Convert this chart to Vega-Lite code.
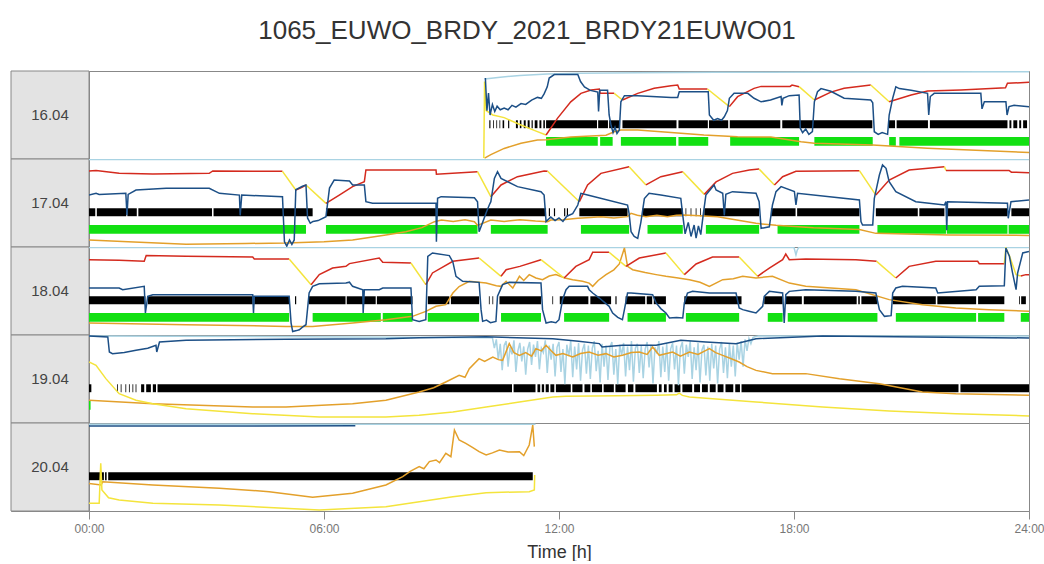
{
"$schema":"https://vega.github.io/schema/vega-lite/v6.json",
"background":"white",
"padding":{"left":10,"top":18,"right":10,"bottom":0},
"title":{"text":"1065_EUWO_BRDY_2021_BRDY21EUWO01","fontSize":26,"font":"Liberation Sans","fontWeight":"normal","color":"#333333","anchor":"middle","offset":26},
"config":{"view":{"stroke":"#888888","strokeWidth":1},"concat":{"spacing":0},"font":"Liberation Sans"},
"data":{"values":[
{"d":"16.04","c":"lb","g":1,"h":10.1,"v":91},{"d":"16.04","c":"lb","g":1,"h":10.5,"v":93},{"d":"16.04","c":"lb","g":1,"h":11,"v":95},{"d":"16.04","c":"lb","g":1,"h":11.7,"v":96.5},{"d":"16.04","c":"lb","g":1,"h":12.5,"v":97.5},{"d":"16.04","c":"lb","g":1,"h":14,"v":98},{"d":"16.04","c":"lb","g":1,"h":16,"v":98.5},{"d":"16.04","c":"lb","g":1,"h":20,"v":99},{"d":"16.04","c":"lb","g":1,"h":24,"v":99.2},
{"d":"16.04","c":"or","g":1,"h":10.1,"v":1},{"d":"16.04","c":"or","g":1,"h":10.26,"v":5},{"d":"16.04","c":"or","g":1,"h":10.6,"v":12},{"d":"16.04","c":"or","g":1,"h":11.03,"v":18},{"d":"16.04","c":"or","g":1,"h":11.45,"v":21.6},{"d":"16.04","c":"or","g":1,"h":11.67,"v":22},{"d":"16.04","c":"or","g":1,"h":12.3,"v":25},{"d":"16.04","c":"or","g":1,"h":13.2,"v":27},{"d":"16.04","c":"or","g":1,"h":13.41,"v":31},{"d":"16.04","c":"or","g":1,"h":13.58,"v":33},{"d":"16.04","c":"or","g":1,"h":14.01,"v":33},{"d":"16.04","c":"or","g":1,"h":14.86,"v":30},{"d":"16.04","c":"or","g":1,"h":15.7,"v":27.3},{"d":"16.04","c":"or","g":1,"h":16.56,"v":25.4},{"d":"16.04","c":"or","g":1,"h":17.41,"v":25},{"d":"16.04","c":"or","g":1,"h":18.18,"v":19.7},{"d":"16.04","c":"or","g":1,"h":18.52,"v":18},{"d":"16.04","c":"or","g":1,"h":20.01,"v":15.9},{"d":"16.04","c":"or","g":1,"h":21.41,"v":12.1},{"d":"16.04","c":"or","g":1,"h":24,"v":7.5},
{"d":"16.04","c":"yl","g":"y1","h":10.08,"v":1},{"d":"16.04","c":"yl","g":"y1","h":10.1,"v":88},{"d":"16.04","c":"yl","g":"y1","h":10.14,"v":55},{"d":"16.04","c":"yl","g":"y1","h":10.31,"v":50},{"d":"16.04","c":"yl","g":"y1","h":10.6,"v":47},{"d":"16.04","c":"yl","g":"y1","h":11.03,"v":38.6},{"d":"16.04","c":"yl","g":"y1","h":11.4,"v":32},{"d":"16.04","c":"yl","g":"y1","h":11.67,"v":27.3},
{"d":"16.04","c":"rd","g":"r1","h":11.67,"v":27.3},{"d":"16.04","c":"rd","g":"r1","h":11.96,"v":46.2},{"d":"16.04","c":"rd","g":"r1","h":12.3,"v":65},{"d":"16.04","c":"rd","g":"r1","h":12.56,"v":74.6},{"d":"16.04","c":"rd","g":"r1","h":12.82,"v":78.4},{"d":"16.04","c":"rd","g":"r1","h":13.03,"v":79.5},{"d":"16.04","c":"rd","g":"r1","h":13.05,"v":74.6},{"d":"16.04","c":"rd","g":"r1","h":13.41,"v":74.6},
{"d":"16.04","c":"yl","g":"y2","h":13.41,"v":74.6},{"d":"16.04","c":"yl","g":"y2","h":13.62,"v":67},
{"d":"16.04","c":"rd","g":"r2","h":13.62,"v":67},{"d":"16.04","c":"rd","g":"r2","h":14.01,"v":74.6},{"d":"16.04","c":"rd","g":"r2","h":14.43,"v":80.3},{"d":"16.04","c":"rd","g":"r2","h":14.86,"v":83.3},{"d":"16.04","c":"rd","g":"r2","h":15.03,"v":84.1},{"d":"16.04","c":"rd","g":"r2","h":15.07,"v":79.5},{"d":"16.04","c":"rd","g":"r2","h":15.79,"v":79.5},
{"d":"16.04","c":"yl","g":"y3","h":15.79,"v":79.5},{"d":"16.04","c":"yl","g":"y3","h":16.35,"v":59.5},
{"d":"16.04","c":"rd","g":"r3","h":16.35,"v":59.5},{"d":"16.04","c":"rd","g":"r3","h":16.56,"v":70.8},{"d":"16.04","c":"rd","g":"r3","h":16.98,"v":80.3},{"d":"16.04","c":"rd","g":"r3","h":17.16,"v":82.5},{"d":"16.04","c":"rd","g":"r3","h":17.9,"v":82.5},{"d":"16.04","c":"rd","g":"r3","h":17.95,"v":84},{"d":"16.04","c":"rd","g":"r3","h":18.13,"v":82.2},
{"d":"16.04","c":"yl","g":"y4","h":18.13,"v":82.2},{"d":"16.04","c":"yl","g":"y4","h":18.52,"v":67},
{"d":"16.04","c":"rd","g":"r4","h":18.52,"v":67},{"d":"16.04","c":"rd","g":"r4","h":18.94,"v":76},{"d":"16.04","c":"rd","g":"r4","h":19.28,"v":80.3},{"d":"16.04","c":"rd","g":"r4","h":19.96,"v":84.1},
{"d":"16.04","c":"yl","g":"y5","h":19.96,"v":84.1},{"d":"16.04","c":"yl","g":"y5","h":20.43,"v":65.1},
{"d":"16.04","c":"rd","g":"r5","h":20.43,"v":65.1},{"d":"16.04","c":"rd","g":"r5","h":20.99,"v":72.7},{"d":"16.04","c":"rd","g":"r5","h":21.41,"v":77.3},{"d":"16.04","c":"rd","g":"r5","h":22.26,"v":78.4},{"d":"16.04","c":"rd","g":"r5","h":22.77,"v":79.5},{"d":"16.04","c":"rd","g":"r5","h":23.4,"v":81},{"d":"16.04","c":"rd","g":"r5","h":23.45,"v":86},{"d":"16.04","c":"rd","g":"r5","h":24,"v":87.1},
{"d":"16.04","c":"db","g":1,"h":10.12,"v":92},{"d":"16.04","c":"db","g":1,"h":10.16,"v":55},{"d":"16.04","c":"db","g":1,"h":10.2,"v":75},{"d":"16.04","c":"db","g":1,"h":10.24,"v":50},{"d":"16.04","c":"db","g":1,"h":10.3,"v":62},{"d":"16.04","c":"db","g":1,"h":10.36,"v":54},{"d":"16.04","c":"db","g":1,"h":10.42,"v":60},{"d":"16.04","c":"db","g":1,"h":10.5,"v":56},{"d":"16.04","c":"db","g":1,"h":10.6,"v":58},{"d":"16.04","c":"db","g":1,"h":10.7,"v":56},{"d":"16.04","c":"db","g":1,"h":10.8,"v":61},{"d":"16.04","c":"db","g":1,"h":10.9,"v":59},{"d":"16.04","c":"db","g":1,"h":11.03,"v":63},{"d":"16.04","c":"db","g":1,"h":11.15,"v":62},{"d":"16.04","c":"db","g":1,"h":11.3,"v":67},{"d":"16.04","c":"db","g":1,"h":11.45,"v":70},{"d":"16.04","c":"db","g":1,"h":11.55,"v":69},{"d":"16.04","c":"db","g":1,"h":11.62,"v":74},{"d":"16.04","c":"db","g":1,"h":11.7,"v":82},{"d":"16.04","c":"db","g":1,"h":11.75,"v":92},{"d":"16.04","c":"db","g":1,"h":11.88,"v":96},{"d":"16.04","c":"db","g":1,"h":12.48,"v":96},{"d":"16.04","c":"db","g":1,"h":12.55,"v":88},{"d":"16.04","c":"db","g":1,"h":12.65,"v":82},{"d":"16.04","c":"db","g":1,"h":12.8,"v":78},{"d":"16.04","c":"db","g":1,"h":12.99,"v":76},{"d":"16.04","c":"db","g":1,"h":13.01,"v":54},{"d":"16.04","c":"db","g":1,"h":13.04,"v":78},{"d":"16.04","c":"db","g":1,"h":13.24,"v":78},{"d":"16.04","c":"db","g":1,"h":13.28,"v":50},{"d":"16.04","c":"db","g":1,"h":13.33,"v":38},{"d":"16.04","c":"db","g":1,"h":13.38,"v":30},{"d":"16.04","c":"db","g":1,"h":13.43,"v":36},{"d":"16.04","c":"db","g":1,"h":13.48,"v":29},{"d":"16.04","c":"db","g":1,"h":13.54,"v":33},{"d":"16.04","c":"db","g":1,"h":13.58,"v":65},{"d":"16.04","c":"db","g":1,"h":13.67,"v":72},{"d":"16.04","c":"db","g":1,"h":14.01,"v":72},{"d":"16.04","c":"db","g":1,"h":14.86,"v":70},{"d":"16.04","c":"db","g":1,"h":15.03,"v":70},{"d":"16.04","c":"db","g":1,"h":15.07,"v":76.5},{"d":"16.04","c":"db","g":1,"h":15.81,"v":76.5},{"d":"16.04","c":"db","g":1,"h":15.84,"v":50},{"d":"16.04","c":"db","g":1,"h":15.95,"v":44},{"d":"16.04","c":"db","g":1,"h":16.05,"v":46},{"d":"16.04","c":"db","g":1,"h":16.15,"v":44},{"d":"16.04","c":"db","g":1,"h":16.22,"v":48},{"d":"16.04","c":"db","g":1,"h":16.3,"v":55},{"d":"16.04","c":"db","g":1,"h":16.35,"v":69},{"d":"16.04","c":"db","g":1,"h":16.47,"v":74.6},{"d":"16.04","c":"db","g":1,"h":16.82,"v":74.6},{"d":"16.04","c":"db","g":1,"h":16.98,"v":69},{"d":"16.04","c":"db","g":1,"h":17.16,"v":65},{"d":"16.04","c":"db","g":1,"h":17.4,"v":67},{"d":"16.04","c":"db","g":1,"h":17.67,"v":71},{"d":"16.04","c":"db","g":1,"h":17.69,"v":61},{"d":"16.04","c":"db","g":1,"h":17.72,"v":69},{"d":"16.04","c":"db","g":1,"h":17.88,"v":72},{"d":"16.04","c":"db","g":1,"h":18.13,"v":72.7},{"d":"16.04","c":"db","g":1,"h":18.16,"v":35},{"d":"16.04","c":"db","g":1,"h":18.22,"v":30},{"d":"16.04","c":"db","g":1,"h":18.3,"v":34},{"d":"16.04","c":"db","g":1,"h":18.38,"v":28},{"d":"16.04","c":"db","g":1,"h":18.47,"v":31},{"d":"16.04","c":"db","g":1,"h":18.52,"v":65},{"d":"16.04","c":"db","g":1,"h":18.6,"v":76.5},{"d":"16.04","c":"db","g":1,"h":18.69,"v":80},{"d":"16.04","c":"db","g":1,"h":18.94,"v":77},{"d":"16.04","c":"db","g":1,"h":19.28,"v":69},{"d":"16.04","c":"db","g":1,"h":19.96,"v":67},{"d":"16.04","c":"db","g":1,"h":20.01,"v":64},{"d":"16.04","c":"db","g":1,"h":20.05,"v":31},{"d":"16.04","c":"db","g":1,"h":20.15,"v":28},{"d":"16.04","c":"db","g":1,"h":20.25,"v":30},{"d":"16.04","c":"db","g":1,"h":20.39,"v":28},{"d":"16.04","c":"db","g":1,"h":20.43,"v":50},{"d":"16.04","c":"db","g":1,"h":20.52,"v":69},{"d":"16.04","c":"db","g":1,"h":20.6,"v":82},{"d":"16.04","c":"db","g":1,"h":20.69,"v":80},{"d":"16.04","c":"db","g":1,"h":20.99,"v":78},{"d":"16.04","c":"db","g":1,"h":21.41,"v":74.6},{"d":"16.04","c":"db","g":1,"h":21.44,"v":50},{"d":"16.04","c":"db","g":1,"h":21.48,"v":71},{"d":"16.04","c":"db","g":1,"h":21.58,"v":74.6},{"d":"16.04","c":"db","g":1,"h":22.77,"v":74.6},{"d":"16.04","c":"db","g":1,"h":22.8,"v":57},{"d":"16.04","c":"db","g":1,"h":22.86,"v":65},{"d":"16.04","c":"db","g":1,"h":23.41,"v":65},{"d":"16.04","c":"db","g":1,"h":23.44,"v":50},{"d":"16.04","c":"db","g":1,"h":23.49,"v":59.5},{"d":"16.04","c":"db","g":1,"h":23.62,"v":61},{"d":"16.04","c":"db","g":1,"h":24,"v":59.5},
{"d":"16.04","c":"bk","a":10.22,"b":10.25},{"d":"16.04","c":"bk","a":10.32,"b":10.34},{"d":"16.04","c":"bk","a":10.4,"b":10.42},{"d":"16.04","c":"bk","a":10.48,"b":10.5},{"d":"16.04","c":"bk","a":10.56,"b":10.6},{"d":"16.04","c":"bk","a":10.7,"b":10.73},{"d":"16.04","c":"bk","a":10.9,"b":10.95},{"d":"16.04","c":"bk","a":11.0,"b":11.04},{"d":"16.04","c":"bk","a":11.1,"b":11.15},{"d":"16.04","c":"bk","a":11.2,"b":11.25},{"d":"16.04","c":"bk","a":11.3,"b":11.33},{"d":"16.04","c":"bk","a":11.38,"b":11.45},{"d":"16.04","c":"bk","a":11.5,"b":11.55},{"d":"16.04","c":"bk","a":11.6,"b":11.64},{"d":"16.04","c":"bk","a":11.67,"b":12.97},{"d":"16.04","c":"bk","a":13.0,"b":13.25},{"d":"16.04","c":"bk","a":13.28,"b":13.56},{"d":"16.04","c":"bk","a":13.62,"b":15.0},{"d":"16.04","c":"bk","a":15.05,"b":15.8},{"d":"16.04","c":"bk","a":15.83,"b":16.32},{"d":"16.04","c":"bk","a":16.36,"b":17.65},{"d":"16.04","c":"bk","a":17.7,"b":20.0},{"d":"16.04","c":"bk","a":20.42,"b":20.58},{"d":"16.04","c":"bk","a":20.62,"b":21.42},{"d":"16.04","c":"bk","a":21.47,"b":23.45},{"d":"16.04","c":"bk","a":23.5,"b":23.55},{"d":"16.04","c":"bk","a":23.6,"b":23.7},{"d":"16.04","c":"bk","a":23.75,"b":23.8},{"d":"16.04","c":"bk","a":23.85,"b":23.95},
{"d":"16.04","c":"gr","a":11.67,"b":12.99},{"d":"16.04","c":"gr","a":13.05,"b":13.37},{"d":"16.04","c":"gr","a":13.58,"b":14.99},{"d":"16.04","c":"gr","a":15.05,"b":15.81},{"d":"16.04","c":"gr","a":16.37,"b":18.13},{"d":"16.04","c":"gr","a":18.52,"b":20.01},{"d":"16.04","c":"gr","a":20.43,"b":20.6},{"d":"16.04","c":"gr","a":20.69,"b":24},

{"d":"17.04","c":"lb","g":1,"h":0,"v":99.5},{"d":"17.04","c":"lb","g":1,"h":24,"v":99.5},
{"d":"17.04","c":"or","g":1,"h":0,"v":8},{"d":"17.04","c":"or","g":1,"h":1,"v":6},{"d":"17.04","c":"or","g":1,"h":2.48,"v":3},{"d":"17.04","c":"or","g":1,"h":4,"v":4},{"d":"17.04","c":"or","g":1,"h":5.03,"v":4.5},{"d":"17.04","c":"or","g":1,"h":6,"v":6},{"d":"17.04","c":"or","g":1,"h":6.73,"v":8},{"d":"17.04","c":"or","g":1,"h":7.58,"v":13.6},{"d":"17.04","c":"or","g":1,"h":8.09,"v":17.4},{"d":"17.04","c":"or","g":1,"h":8.5,"v":22},{"d":"17.04","c":"or","g":1,"h":8.82,"v":28.8},{"d":"17.04","c":"or","g":1,"h":9.0,"v":30.7},{"d":"17.04","c":"or","g":1,"h":9.3,"v":29},{"d":"17.04","c":"or","g":1,"h":9.6,"v":31},{"d":"17.04","c":"or","g":1,"h":9.84,"v":28.8},{"d":"17.04","c":"or","g":1,"h":9.92,"v":24.6},{"d":"17.04","c":"or","g":1,"h":10.26,"v":30.7},{"d":"17.04","c":"or","g":1,"h":10.6,"v":29},{"d":"17.04","c":"or","g":1,"h":11.0,"v":31},{"d":"17.04","c":"or","g":1,"h":11.4,"v":29.5},{"d":"17.04","c":"or","g":1,"h":11.71,"v":28.8},{"d":"17.04","c":"or","g":1,"h":11.79,"v":30.7},{"d":"17.04","c":"or","g":1,"h":12.1,"v":31},{"d":"17.04","c":"or","g":1,"h":12.48,"v":32.6},{"d":"17.04","c":"or","g":1,"h":12.8,"v":33.5},{"d":"17.04","c":"or","g":1,"h":13.07,"v":34.5},{"d":"17.04","c":"or","g":1,"h":13.4,"v":33},{"d":"17.04","c":"or","g":1,"h":13.75,"v":34.5},{"d":"17.04","c":"or","g":1,"h":13.84,"v":38.3},{"d":"17.04","c":"or","g":1,"h":14.0,"v":36},{"d":"17.04","c":"or","g":1,"h":14.22,"v":34.5},{"d":"17.04","c":"or","g":1,"h":14.5,"v":36},{"d":"17.04","c":"or","g":1,"h":14.77,"v":34.5},{"d":"17.04","c":"or","g":1,"h":15.0,"v":36},{"d":"17.04","c":"or","g":1,"h":15.2,"v":36.4},{"d":"17.04","c":"or","g":1,"h":15.6,"v":35.5},{"d":"17.04","c":"or","g":1,"h":16.05,"v":34.5},{"d":"17.04","c":"or","g":1,"h":16.5,"v":31},{"d":"17.04","c":"or","g":1,"h":17.03,"v":26.9},{"d":"17.04","c":"or","g":1,"h":17.54,"v":24.6},{"d":"17.04","c":"or","g":1,"h":18.5,"v":22},{"d":"17.04","c":"or","g":1,"h":19.67,"v":20},{"d":"17.04","c":"or","g":1,"h":20.09,"v":15.5},{"d":"17.04","c":"or","g":1,"h":21.96,"v":13.6},{"d":"17.04","c":"or","g":1,"h":24,"v":13.2},
{"d":"17.04","c":"rd","g":"r1","h":0,"v":86.4},{"d":"17.04","c":"rd","g":"r1","h":0.18,"v":87},{"d":"17.04","c":"rd","g":"r1","h":0.77,"v":83.7},{"d":"17.04","c":"rd","g":"r1","h":1.63,"v":83},{"d":"17.04","c":"rd","g":"r1","h":3.07,"v":83.7},{"d":"17.04","c":"rd","g":"r1","h":3.16,"v":86.4},{"d":"17.04","c":"rd","g":"r1","h":4.18,"v":86},{"d":"17.04","c":"rd","g":"r1","h":4.94,"v":86},
{"d":"17.04","c":"yl","g":"y1","h":4.94,"v":86},{"d":"17.04","c":"yl","g":"y1","h":5.28,"v":64.8},
{"d":"17.04","c":"rd","g":"r2","h":5.28,"v":64.8},{"d":"17.04","c":"rd","g":"r2","h":5.45,"v":68},{"d":"17.04","c":"rd","g":"r2","h":5.54,"v":70.5},
{"d":"17.04","c":"yl","g":"y2","h":5.54,"v":70.5},{"d":"17.04","c":"yl","g":"y2","h":6.05,"v":49.6},
{"d":"17.04","c":"rd","g":"r3","h":6.05,"v":49.6},{"d":"17.04","c":"rd","g":"r3","h":6.39,"v":59},{"d":"17.04","c":"rd","g":"r3","h":6.73,"v":68.6},{"d":"17.04","c":"rd","g":"r3","h":7.03,"v":74.2},{"d":"17.04","c":"rd","g":"r3","h":7.07,"v":87.5},{"d":"17.04","c":"rd","g":"r3","h":8.86,"v":87.5},{"d":"17.04","c":"rd","g":"r3","h":8.87,"v":82.6},{"d":"17.04","c":"rd","g":"r3","h":9.92,"v":85.6},
{"d":"17.04","c":"yl","g":"y3","h":9.92,"v":85.6},{"d":"17.04","c":"yl","g":"y3","h":10.26,"v":57.2},
{"d":"17.04","c":"rd","g":"r4","h":10.26,"v":57.2},{"d":"17.04","c":"rd","g":"r4","h":10.52,"v":70.5},{"d":"17.04","c":"rd","g":"r4","h":10.94,"v":79.9},{"d":"17.04","c":"rd","g":"r4","h":11.62,"v":86.4},{"d":"17.04","c":"rd","g":"r4","h":11.71,"v":86},
{"d":"17.04","c":"yl","g":"y4","h":11.71,"v":86},{"d":"17.04","c":"yl","g":"y4","h":12.52,"v":51.5},
{"d":"17.04","c":"rd","g":"r5","h":12.52,"v":51.5},{"d":"17.04","c":"rd","g":"r5","h":12.73,"v":70.5},{"d":"17.04","c":"rd","g":"r5","h":13.07,"v":83.7},{"d":"17.04","c":"rd","g":"r5","h":13.79,"v":91.3},
{"d":"17.04","c":"yl","g":"y5","h":13.79,"v":91.3},{"d":"17.04","c":"yl","g":"y5","h":14.22,"v":70.5},
{"d":"17.04","c":"rd","g":"r6","h":14.22,"v":70.5},{"d":"17.04","c":"rd","g":"r6","h":14.6,"v":79.9},{"d":"17.04","c":"rd","g":"r6","h":15.16,"v":85.6},
{"d":"17.04","c":"yl","g":"y6","h":15.16,"v":85.6},{"d":"17.04","c":"yl","g":"y6","h":15.71,"v":59.8},
{"d":"17.04","c":"rd","g":"r7","h":15.71,"v":59.8},{"d":"17.04","c":"rd","g":"r7","h":16.01,"v":74},{"d":"17.04","c":"rd","g":"r7","h":16.43,"v":83.7},{"d":"17.04","c":"rd","g":"r7","h":16.86,"v":87.5},{"d":"17.04","c":"rd","g":"r7","h":17.11,"v":88.5},
{"d":"17.04","c":"yl","g":"y7","h":17.11,"v":88.5},{"d":"17.04","c":"yl","g":"y7","h":17.5,"v":70.5},
{"d":"17.04","c":"rd","g":"r8","h":17.5,"v":70.5},{"d":"17.04","c":"rd","g":"r8","h":17.71,"v":79.9},{"d":"17.04","c":"rd","g":"r8","h":18.05,"v":86},{"d":"17.04","c":"rd","g":"r8","h":19.67,"v":86.7},
{"d":"17.04","c":"yl","g":"y8","h":19.67,"v":86.7},{"d":"17.04","c":"yl","g":"y8","h":20.09,"v":59},
{"d":"17.04","c":"rd","g":"r9","h":20.09,"v":59},{"d":"17.04","c":"rd","g":"r9","h":20.43,"v":76},{"d":"17.04","c":"rd","g":"r9","h":20.94,"v":87.5},{"d":"17.04","c":"rd","g":"r9","h":21.84,"v":91.3},
{"d":"17.04","c":"yl","g":"y9","h":21.84,"v":91.3},{"d":"17.04","c":"yl","g":"y9","h":21.88,"v":87},
{"d":"17.04","c":"rd","g":"r10","h":21.88,"v":87},{"d":"17.04","c":"rd","g":"r10","h":23.49,"v":87},{"d":"17.04","c":"rd","g":"r10","h":23.55,"v":85},{"d":"17.04","c":"rd","g":"r10","h":24,"v":84.5},
{"d":"17.04","c":"db","g":1,"h":0,"v":59},{"d":"17.04","c":"db","g":1,"h":0.18,"v":61},{"d":"17.04","c":"db","g":1,"h":0.26,"v":59.8},{"d":"17.04","c":"db","g":1,"h":0.94,"v":61},{"d":"17.04","c":"db","g":1,"h":0.97,"v":36},{"d":"17.04","c":"db","g":1,"h":1.0,"v":59.8},{"d":"17.04","c":"db","g":1,"h":1.2,"v":64.8},{"d":"17.04","c":"db","g":1,"h":1.97,"v":66.7},{"d":"17.04","c":"db","g":1,"h":3.07,"v":66.7},{"d":"17.04","c":"db","g":1,"h":3.33,"v":61},{"d":"17.04","c":"db","g":1,"h":3.84,"v":59},{"d":"17.04","c":"db","g":1,"h":3.86,"v":36},{"d":"17.04","c":"db","g":1,"h":3.9,"v":59},{"d":"17.04","c":"db","g":1,"h":4.94,"v":57.2},{"d":"17.04","c":"db","g":1,"h":4.99,"v":6},{"d":"17.04","c":"db","g":1,"h":5.05,"v":1},{"d":"17.04","c":"db","g":1,"h":5.12,"v":8},{"d":"17.04","c":"db","g":1,"h":5.18,"v":3},{"d":"17.04","c":"db","g":1,"h":5.24,"v":8},{"d":"17.04","c":"db","g":1,"h":5.28,"v":65},{"d":"17.04","c":"db","g":1,"h":5.45,"v":69},{"d":"17.04","c":"db","g":1,"h":5.54,"v":70.5},{"d":"17.04","c":"db","g":1,"h":5.58,"v":33},{"d":"17.04","c":"db","g":1,"h":5.65,"v":27},{"d":"17.04","c":"db","g":1,"h":5.72,"v":29},{"d":"17.04","c":"db","g":1,"h":5.85,"v":30},{"d":"17.04","c":"db","g":1,"h":6.05,"v":34.5},{"d":"17.04","c":"db","g":1,"h":6.14,"v":67},{"d":"17.04","c":"db","g":1,"h":6.26,"v":76},{"d":"17.04","c":"db","g":1,"h":6.65,"v":75},{"d":"17.04","c":"db","g":1,"h":6.73,"v":70.5},{"d":"17.04","c":"db","g":1,"h":7.03,"v":70.5},{"d":"17.04","c":"db","g":1,"h":7.07,"v":51.5},{"d":"17.04","c":"db","g":1,"h":7.24,"v":49.6},{"d":"17.04","c":"db","g":1,"h":8.86,"v":49.6},{"d":"17.04","c":"db","g":1,"h":8.87,"v":6},{"d":"17.04","c":"db","g":1,"h":8.9,"v":55.3},{"d":"17.04","c":"db","g":1,"h":8.99,"v":57.2},{"d":"17.04","c":"db","g":1,"h":9.84,"v":56},{"d":"17.04","c":"db","g":1,"h":9.92,"v":51.5},{"d":"17.04","c":"db","g":1,"h":9.96,"v":17.4},{"d":"17.04","c":"db","g":1,"h":10.05,"v":28},{"d":"17.04","c":"db","g":1,"h":10.15,"v":40},{"d":"17.04","c":"db","g":1,"h":10.22,"v":47.7},{"d":"17.04","c":"db","g":1,"h":10.26,"v":51.5},{"d":"17.04","c":"db","g":1,"h":10.35,"v":78},{"d":"17.04","c":"db","g":1,"h":10.43,"v":85.6},{"d":"17.04","c":"db","g":1,"h":10.52,"v":78},{"d":"17.04","c":"db","g":1,"h":10.94,"v":68.6},{"d":"17.04","c":"db","g":1,"h":11.54,"v":62.9},{"d":"17.04","c":"db","g":1,"h":11.62,"v":59},{"d":"17.04","c":"db","g":1,"h":11.67,"v":28.8},{"d":"17.04","c":"db","g":1,"h":11.79,"v":34},{"d":"17.04","c":"db","g":1,"h":11.9,"v":30},{"d":"17.04","c":"db","g":1,"h":12.0,"v":33},{"d":"17.04","c":"db","g":1,"h":12.1,"v":29},{"d":"17.04","c":"db","g":1,"h":12.2,"v":35},{"d":"17.04","c":"db","g":1,"h":12.35,"v":38},{"d":"17.04","c":"db","g":1,"h":12.48,"v":47.7},{"d":"17.04","c":"db","g":1,"h":12.56,"v":61},{"d":"17.04","c":"db","g":1,"h":12.73,"v":59},{"d":"17.04","c":"db","g":1,"h":13.75,"v":47.7},{"d":"17.04","c":"db","g":1,"h":13.79,"v":38},{"d":"17.04","c":"db","g":1,"h":13.84,"v":17.4},{"d":"17.04","c":"db","g":1,"h":13.92,"v":12},{"d":"17.04","c":"db","g":1,"h":14.01,"v":9.8},{"d":"17.04","c":"db","g":1,"h":14.09,"v":28},{"d":"17.04","c":"db","g":1,"h":14.18,"v":55},{"d":"17.04","c":"db","g":1,"h":14.3,"v":61},{"d":"17.04","c":"db","g":1,"h":14.6,"v":59},{"d":"17.04","c":"db","g":1,"h":15.11,"v":55.3},{"d":"17.04","c":"db","g":1,"h":15.16,"v":36},{"d":"17.04","c":"db","g":1,"h":15.22,"v":15},{"d":"17.04","c":"db","g":1,"h":15.3,"v":28},{"d":"17.04","c":"db","g":1,"h":15.37,"v":12},{"d":"17.04","c":"db","g":1,"h":15.45,"v":25},{"d":"17.04","c":"db","g":1,"h":15.5,"v":10},{"d":"17.04","c":"db","g":1,"h":15.56,"v":24},{"d":"17.04","c":"db","g":1,"h":15.62,"v":14},{"d":"17.04","c":"db","g":1,"h":15.68,"v":36},{"d":"17.04","c":"db","g":1,"h":15.75,"v":59},{"d":"17.04","c":"db","g":1,"h":15.96,"v":70.5},{"d":"17.04","c":"db","g":1,"h":16.01,"v":64.8},{"d":"17.04","c":"db","g":1,"h":16.18,"v":61},{"d":"17.04","c":"db","g":1,"h":16.22,"v":36},{"d":"17.04","c":"db","g":1,"h":16.26,"v":59.8},{"d":"17.04","c":"db","g":1,"h":16.43,"v":62.9},{"d":"17.04","c":"db","g":1,"h":17.03,"v":61},{"d":"17.04","c":"db","g":1,"h":17.11,"v":51.5},{"d":"17.04","c":"db","g":1,"h":17.16,"v":21.2},{"d":"17.04","c":"db","g":1,"h":17.37,"v":23},{"d":"17.04","c":"db","g":1,"h":17.45,"v":47.7},{"d":"17.04","c":"db","g":1,"h":17.54,"v":62.9},{"d":"17.04","c":"db","g":1,"h":17.67,"v":68.6},{"d":"17.04","c":"db","g":1,"h":18.01,"v":62.9},{"d":"17.04","c":"db","g":1,"h":18.05,"v":47.7},{"d":"17.04","c":"db","g":1,"h":18.09,"v":61},{"d":"17.04","c":"db","g":1,"h":19.67,"v":53.4},{"d":"17.04","c":"db","g":1,"h":19.71,"v":28.8},{"d":"17.04","c":"db","g":1,"h":19.75,"v":25},{"d":"17.04","c":"db","g":1,"h":20.01,"v":25},{"d":"17.04","c":"db","g":1,"h":20.05,"v":55},{"d":"17.04","c":"db","g":1,"h":20.18,"v":81.8},{"d":"17.04","c":"db","g":1,"h":20.26,"v":93.2},{"d":"17.04","c":"db","g":1,"h":20.35,"v":89.4},{"d":"17.04","c":"db","g":1,"h":20.43,"v":74.2},{"d":"17.04","c":"db","g":1,"h":20.6,"v":62.9},{"d":"17.04","c":"db","g":1,"h":21.11,"v":51.5},{"d":"17.04","c":"db","g":1,"h":21.84,"v":47.7},{"d":"17.04","c":"db","g":1,"h":21.88,"v":51.5},{"d":"17.04","c":"db","g":1,"h":21.9,"v":19},{"d":"17.04","c":"db","g":1,"h":21.92,"v":51.5},{"d":"17.04","c":"db","g":1,"h":23.45,"v":49.6},{"d":"17.04","c":"db","g":1,"h":23.47,"v":32.6},{"d":"17.04","c":"db","g":1,"h":23.54,"v":51.5},{"d":"17.04","c":"db","g":1,"h":24,"v":53.4},
{"d":"17.04","c":"bk","a":0,"b":0.16},{"d":"17.04","c":"bk","a":0.2,"b":0.95},{"d":"17.04","c":"bk","a":0.98,"b":1.22},{"d":"17.04","c":"bk","a":1.26,"b":3.14},{"d":"17.04","c":"bk","a":3.18,"b":5.71},{"d":"17.04","c":"bk","a":6.05,"b":11.67},{"d":"17.04","c":"bk","a":11.74,"b":11.77},{"d":"17.04","c":"bk","a":11.87,"b":11.9},{"d":"17.04","c":"bk","a":12.13,"b":12.16},{"d":"17.04","c":"bk","a":12.2,"b":12.23},{"d":"17.04","c":"bk","a":12.52,"b":13.75},{"d":"17.04","c":"bk","a":14.13,"b":15.16},{"d":"17.04","c":"bk","a":15.23,"b":15.25},{"d":"17.04","c":"bk","a":15.36,"b":15.38},{"d":"17.04","c":"bk","a":15.49,"b":15.51},{"d":"17.04","c":"bk","a":15.6,"b":15.62},{"d":"17.04","c":"bk","a":15.71,"b":17.11},{"d":"17.04","c":"bk","a":17.41,"b":18.04},{"d":"17.04","c":"bk","a":18.08,"b":19.67},{"d":"17.04","c":"bk","a":20.09,"b":21.16},{"d":"17.04","c":"bk","a":21.2,"b":21.84},{"d":"17.04","c":"bk","a":21.88,"b":23.45},{"d":"17.04","c":"bk","a":23.55,"b":24},
{"d":"17.04","c":"gr","a":0,"b":5.54},{"d":"17.04","c":"gr","a":6.05,"b":9.92},{"d":"17.04","c":"gr","a":10.26,"b":11.71},{"d":"17.04","c":"gr","a":12.56,"b":13.79},{"d":"17.04","c":"gr","a":14.26,"b":15.16},{"d":"17.04","c":"gr","a":15.75,"b":17.11},{"d":"17.04","c":"gr","a":17.58,"b":19.67},{"d":"17.04","c":"gr","a":20.13,"b":21.88},{"d":"17.04","c":"gr","a":21.9,"b":23.45},{"d":"17.04","c":"gr","a":23.48,"b":24},

{"d":"18.04","c":"lb","g":1,"h":0,"v":99.5},{"d":"18.04","c":"lb","g":1,"h":18.0,"v":99.5},{"d":"18.04","c":"lb","g":1,"h":18.05,"v":91},{"d":"18.04","c":"lb","g":1,"h":18.08,"v":96},{"d":"18.04","c":"lb","g":1,"h":18.12,"v":99.5},{"d":"18.04","c":"lb","g":1,"h":24,"v":99.5},
{"d":"18.04","c":"or","g":1,"h":0,"v":13.6},{"d":"18.04","c":"or","g":1,"h":2.48,"v":11.7},{"d":"18.04","c":"or","g":1,"h":5.03,"v":9.8},{"d":"18.04","c":"or","g":1,"h":5.71,"v":9.8},{"d":"18.04","c":"or","g":1,"h":6.73,"v":13.6},{"d":"18.04","c":"or","g":1,"h":7.58,"v":17.4},{"d":"18.04","c":"or","g":1,"h":8.26,"v":21.2},{"d":"18.04","c":"or","g":1,"h":8.6,"v":26.9},{"d":"18.04","c":"or","g":1,"h":8.86,"v":32.6},{"d":"18.04","c":"or","g":1,"h":9.11,"v":34.5},{"d":"18.04","c":"or","g":1,"h":9.29,"v":47.7},{"d":"18.04","c":"or","g":1,"h":9.45,"v":55},{"d":"18.04","c":"or","g":1,"h":9.71,"v":61},{"d":"18.04","c":"or","g":1,"h":10.14,"v":59},{"d":"18.04","c":"or","g":1,"h":10.4,"v":56},{"d":"18.04","c":"or","g":1,"h":10.52,"v":55.3},{"d":"18.04","c":"or","g":1,"h":10.65,"v":61},{"d":"18.04","c":"or","g":1,"h":10.82,"v":53.4},{"d":"18.04","c":"or","g":1,"h":10.99,"v":66.7},{"d":"18.04","c":"or","g":1,"h":11.1,"v":62},{"d":"18.04","c":"or","g":1,"h":11.24,"v":68.6},{"d":"18.04","c":"or","g":1,"h":11.41,"v":64.8},{"d":"18.04","c":"or","g":1,"h":11.58,"v":62.9},{"d":"18.04","c":"or","g":1,"h":11.75,"v":67},{"d":"18.04","c":"or","g":1,"h":11.92,"v":68.6},{"d":"18.04","c":"or","g":1,"h":12.15,"v":64.8},{"d":"18.04","c":"or","g":1,"h":12.35,"v":62.9},{"d":"18.04","c":"or","g":1,"h":12.6,"v":61},{"d":"18.04","c":"or","g":1,"h":12.77,"v":59},{"d":"18.04","c":"or","g":1,"h":12.86,"v":55.3},{"d":"18.04","c":"or","g":1,"h":13.0,"v":62},{"d":"18.04","c":"or","g":1,"h":13.2,"v":68.6},{"d":"18.04","c":"or","g":1,"h":13.4,"v":74},{"d":"18.04","c":"or","g":1,"h":13.54,"v":80.7},{"d":"18.04","c":"or","g":1,"h":13.67,"v":98.9},{"d":"18.04","c":"or","g":1,"h":13.75,"v":78},{"d":"18.04","c":"or","g":1,"h":13.88,"v":74.2},{"d":"18.04","c":"or","g":1,"h":14.2,"v":71},{"d":"18.04","c":"or","g":1,"h":14.48,"v":68.6},{"d":"18.04","c":"or","g":1,"h":14.73,"v":66.7},{"d":"18.04","c":"or","g":1,"h":15.0,"v":65},{"d":"18.04","c":"or","g":1,"h":15.33,"v":62.9},{"d":"18.04","c":"or","g":1,"h":15.6,"v":60},{"d":"18.04","c":"or","g":1,"h":15.84,"v":55.3},{"d":"18.04","c":"or","g":1,"h":16.18,"v":62.9},{"d":"18.04","c":"or","g":1,"h":16.45,"v":64},{"d":"18.04","c":"or","g":1,"h":16.69,"v":66.7},{"d":"18.04","c":"or","g":1,"h":17.03,"v":64.8},{"d":"18.04","c":"or","g":1,"h":17.45,"v":66.7},{"d":"18.04","c":"or","g":1,"h":17.88,"v":59},{"d":"18.04","c":"or","g":1,"h":18.3,"v":55.3},{"d":"18.04","c":"or","g":1,"h":19.58,"v":51.5},{"d":"18.04","c":"or","g":1,"h":20.43,"v":40.2},{"d":"18.04","c":"or","g":1,"h":21.28,"v":34.5},{"d":"18.04","c":"or","g":1,"h":22.13,"v":30.7},{"d":"18.04","c":"or","g":1,"h":22.98,"v":28.8},{"d":"18.04","c":"or","g":1,"h":24,"v":26.9},
{"d":"18.04","c":"rd","g":"r1","h":0,"v":85.6},{"d":"18.04","c":"rd","g":"r1","h":0.77,"v":85},{"d":"18.04","c":"rd","g":"r1","h":1.41,"v":83.7},{"d":"18.04","c":"rd","g":"r1","h":1.46,"v":90.2},{"d":"18.04","c":"rd","g":"r1","h":2.48,"v":89.4},{"d":"18.04","c":"rd","g":"r1","h":4.18,"v":88.6},{"d":"18.04","c":"rd","g":"r1","h":4.22,"v":86.4},{"d":"18.04","c":"rd","g":"r1","h":5.11,"v":86.4},
{"d":"18.04","c":"yl","g":"y1","h":5.11,"v":86.4},{"d":"18.04","c":"yl","g":"y1","h":5.67,"v":57.2},
{"d":"18.04","c":"rd","g":"r2","h":5.67,"v":57.2},{"d":"18.04","c":"rd","g":"r2","h":5.88,"v":68.6},{"d":"18.04","c":"rd","g":"r2","h":6.22,"v":76.1},{"d":"18.04","c":"rd","g":"r2","h":6.56,"v":78},{"d":"18.04","c":"rd","g":"r2","h":6.65,"v":81.1},{"d":"18.04","c":"rd","g":"r2","h":7.41,"v":87.5},{"d":"18.04","c":"rd","g":"r2","h":7.5,"v":82.6},{"d":"18.04","c":"rd","g":"r2","h":8.22,"v":81.8},
{"d":"18.04","c":"yl","g":"y2","h":8.22,"v":81.8},{"d":"18.04","c":"yl","g":"y2","h":8.6,"v":57.2},
{"d":"18.04","c":"rd","g":"r3","h":8.6,"v":57.2},{"d":"18.04","c":"rd","g":"r3","h":8.77,"v":70.5},{"d":"18.04","c":"rd","g":"r3","h":9.29,"v":83.7},{"d":"18.04","c":"rd","g":"r3","h":9.96,"v":87.5},
{"d":"18.04","c":"yl","g":"y3","h":9.96,"v":87.5},{"d":"18.04","c":"yl","g":"y3","h":10.52,"v":66.7},
{"d":"18.04","c":"rd","g":"r4","h":10.52,"v":66.7},{"d":"18.04","c":"rd","g":"r4","h":10.65,"v":74.2},{"d":"18.04","c":"rd","g":"r4","h":11.0,"v":78},{"d":"18.04","c":"rd","g":"r4","h":11.54,"v":85.6},
{"d":"18.04","c":"yl","g":"y4","h":11.54,"v":85.6},{"d":"18.04","c":"yl","g":"y4","h":12.13,"v":64.8},
{"d":"18.04","c":"rd","g":"r5","h":12.13,"v":64.8},{"d":"18.04","c":"rd","g":"r5","h":12.43,"v":78},{"d":"18.04","c":"rd","g":"r5","h":12.77,"v":85.6},{"d":"18.04","c":"rd","g":"r5","h":12.86,"v":94},{"d":"18.04","c":"rd","g":"r5","h":13.28,"v":94},
{"d":"18.04","c":"yl","g":"y5","h":13.28,"v":94},{"d":"18.04","c":"yl","g":"y5","h":13.71,"v":78},
{"d":"18.04","c":"rd","g":"r6","h":13.71,"v":78},{"d":"18.04","c":"rd","g":"r6","h":14.05,"v":87.5},{"d":"18.04","c":"rd","g":"r6","h":14.73,"v":93.2},
{"d":"18.04","c":"yl","g":"y6","h":14.73,"v":93.2},{"d":"18.04","c":"yl","g":"y6","h":15.2,"v":68.6},
{"d":"18.04","c":"rd","g":"r7","h":15.2,"v":68.6},{"d":"18.04","c":"rd","g":"r7","h":15.5,"v":80.7},{"d":"18.04","c":"rd","g":"r7","h":15.92,"v":88.6},{"d":"18.04","c":"rd","g":"r7","h":16.6,"v":88.6},
{"d":"18.04","c":"yl","g":"y7","h":16.6,"v":88.6},{"d":"18.04","c":"yl","g":"y7","h":17.07,"v":66.7},
{"d":"18.04","c":"rd","g":"r8","h":17.07,"v":66.7},{"d":"18.04","c":"rd","g":"r8","h":17.37,"v":76.1},{"d":"18.04","c":"rd","g":"r8","h":17.71,"v":85.6},{"d":"18.04","c":"rd","g":"r8","h":17.79,"v":92},{"d":"18.04","c":"rd","g":"r8","h":17.88,"v":85.6},{"d":"18.04","c":"rd","g":"r8","h":18.3,"v":86.4},{"d":"18.04","c":"rd","g":"r8","h":19.58,"v":85.6},{"d":"18.04","c":"rd","g":"r8","h":20.11,"v":83.7},
{"d":"18.04","c":"yl","g":"y8","h":20.11,"v":83.7},{"d":"18.04","c":"yl","g":"y8","h":20.6,"v":64.8},
{"d":"18.04","c":"rd","g":"r9","h":20.6,"v":64.8},{"d":"18.04","c":"rd","g":"r9","h":20.94,"v":78},{"d":"18.04","c":"rd","g":"r9","h":21.62,"v":83.7},{"d":"18.04","c":"rd","g":"r9","h":22.69,"v":83.7},{"d":"18.04","c":"rd","g":"r9","h":22.73,"v":81.1},{"d":"18.04","c":"rd","g":"r9","h":23.37,"v":81.1},
{"d":"18.04","c":"yl","g":"y9","h":23.37,"v":81.1},{"d":"18.04","c":"yl","g":"y9","h":23.41,"v":98.9},{"d":"18.04","c":"yl","g":"y9","h":23.5,"v":90},{"d":"18.04","c":"yl","g":"y9","h":23.67,"v":68.6},{"d":"18.04","c":"yl","g":"y9","h":23.79,"v":67},
{"d":"18.04","c":"rd","g":"r10","h":23.79,"v":67},{"d":"18.04","c":"rd","g":"r10","h":23.92,"v":68.6},{"d":"18.04","c":"rd","g":"r10","h":24,"v":68.6},
{"d":"18.04","c":"db","g":1,"h":0,"v":53.4},{"d":"18.04","c":"db","g":1,"h":0.77,"v":53.4},{"d":"18.04","c":"db","g":1,"h":0.86,"v":51.5},{"d":"18.04","c":"db","g":1,"h":1.41,"v":55.3},{"d":"18.04","c":"db","g":1,"h":1.44,"v":25},{"d":"18.04","c":"db","g":1,"h":1.5,"v":44},{"d":"18.04","c":"db","g":1,"h":1.63,"v":45.8},{"d":"18.04","c":"db","g":1,"h":4.18,"v":45.8},{"d":"18.04","c":"db","g":1,"h":4.2,"v":25},{"d":"18.04","c":"db","g":1,"h":4.22,"v":44},{"d":"18.04","c":"db","g":1,"h":5.11,"v":44},{"d":"18.04","c":"db","g":1,"h":5.16,"v":13.6},{"d":"18.04","c":"db","g":1,"h":5.2,"v":4},{"d":"18.04","c":"db","g":1,"h":5.3,"v":5},{"d":"18.04","c":"db","g":1,"h":5.37,"v":6},{"d":"18.04","c":"db","g":1,"h":5.45,"v":9},{"d":"18.04","c":"db","g":1,"h":5.54,"v":11.7},{"d":"18.04","c":"db","g":1,"h":5.62,"v":47.7},{"d":"18.04","c":"db","g":1,"h":5.71,"v":55.3},{"d":"18.04","c":"db","g":1,"h":5.88,"v":58.3},{"d":"18.04","c":"db","g":1,"h":6.56,"v":59},{"d":"18.04","c":"db","g":1,"h":6.65,"v":60},{"d":"18.04","c":"db","g":1,"h":6.73,"v":55.3},{"d":"18.04","c":"db","g":1,"h":6.99,"v":51.5},{"d":"18.04","c":"db","g":1,"h":7.0,"v":25},{"d":"18.04","c":"db","g":1,"h":7.03,"v":51.5},{"d":"18.04","c":"db","g":1,"h":7.41,"v":51.5},{"d":"18.04","c":"db","g":1,"h":7.5,"v":53.4},{"d":"18.04","c":"db","g":1,"h":8.22,"v":53.4},{"d":"18.04","c":"db","g":1,"h":8.26,"v":17.4},{"d":"18.04","c":"db","g":1,"h":8.43,"v":15.5},{"d":"18.04","c":"db","g":1,"h":8.6,"v":17.4},{"d":"18.04","c":"db","g":1,"h":8.65,"v":89.4},{"d":"18.04","c":"db","g":1,"h":8.77,"v":93.2},{"d":"18.04","c":"db","g":1,"h":9.2,"v":90.2},{"d":"18.04","c":"db","g":1,"h":9.29,"v":83},{"d":"18.04","c":"db","g":1,"h":9.37,"v":66.7},{"d":"18.04","c":"db","g":1,"h":9.54,"v":61},{"d":"18.04","c":"db","g":1,"h":9.96,"v":59.8},{"d":"18.04","c":"db","g":1,"h":10.01,"v":28.8},{"d":"18.04","c":"db","g":1,"h":10.05,"v":15.5},{"d":"18.04","c":"db","g":1,"h":10.15,"v":17},{"d":"18.04","c":"db","g":1,"h":10.25,"v":14},{"d":"18.04","c":"db","g":1,"h":10.39,"v":15.5},{"d":"18.04","c":"db","g":1,"h":10.43,"v":44},{"d":"18.04","c":"db","g":1,"h":10.56,"v":57.2},{"d":"18.04","c":"db","g":1,"h":10.73,"v":59.8},{"d":"18.04","c":"db","g":1,"h":11.54,"v":59},{"d":"18.04","c":"db","g":1,"h":11.58,"v":28.8},{"d":"18.04","c":"db","g":1,"h":11.67,"v":13.6},{"d":"18.04","c":"db","g":1,"h":11.8,"v":15},{"d":"18.04","c":"db","g":1,"h":11.92,"v":14},{"d":"18.04","c":"db","g":1,"h":12.0,"v":17.4},{"d":"18.04","c":"db","g":1,"h":12.09,"v":40},{"d":"18.04","c":"db","g":1,"h":12.18,"v":51.5},{"d":"18.04","c":"db","g":1,"h":12.26,"v":55.3},{"d":"18.04","c":"db","g":1,"h":12.73,"v":55.3},{"d":"18.04","c":"db","g":1,"h":12.77,"v":51.5},{"d":"18.04","c":"db","g":1,"h":12.86,"v":47.7},{"d":"18.04","c":"db","g":1,"h":13.03,"v":42},{"d":"18.04","c":"db","g":1,"h":13.28,"v":32.6},{"d":"18.04","c":"db","g":1,"h":13.37,"v":25},{"d":"18.04","c":"db","g":1,"h":13.5,"v":20},{"d":"18.04","c":"db","g":1,"h":13.62,"v":17.4},{"d":"18.04","c":"db","g":1,"h":13.67,"v":28.8},{"d":"18.04","c":"db","g":1,"h":13.75,"v":47.7},{"d":"18.04","c":"db","g":1,"h":13.84,"v":47.7},{"d":"18.04","c":"db","g":1,"h":14.39,"v":45.8},{"d":"18.04","c":"db","g":1,"h":14.48,"v":36.4},{"d":"18.04","c":"db","g":1,"h":14.6,"v":30},{"d":"18.04","c":"db","g":1,"h":14.73,"v":25},{"d":"18.04","c":"db","g":1,"h":14.82,"v":19.3},{"d":"18.04","c":"db","g":1,"h":15.0,"v":20},{"d":"18.04","c":"db","g":1,"h":15.16,"v":19.3},{"d":"18.04","c":"db","g":1,"h":15.2,"v":36.4},{"d":"18.04","c":"db","g":1,"h":15.28,"v":47.7},{"d":"18.04","c":"db","g":1,"h":15.41,"v":49.6},{"d":"18.04","c":"db","g":1,"h":15.84,"v":47.7},{"d":"18.04","c":"db","g":1,"h":16.52,"v":47.7},{"d":"18.04","c":"db","g":1,"h":16.6,"v":30.7},{"d":"18.04","c":"db","g":1,"h":16.69,"v":28.8},{"d":"18.04","c":"db","g":1,"h":16.85,"v":27},{"d":"18.04","c":"db","g":1,"h":17.03,"v":25},{"d":"18.04","c":"db","g":1,"h":17.2,"v":32.6},{"d":"18.04","c":"db","g":1,"h":17.24,"v":44},{"d":"18.04","c":"db","g":1,"h":17.37,"v":49.6},{"d":"18.04","c":"db","g":1,"h":17.71,"v":47.7},{"d":"18.04","c":"db","g":1,"h":17.75,"v":13.6},{"d":"18.04","c":"db","g":1,"h":17.79,"v":45.8},{"d":"18.04","c":"db","g":1,"h":17.88,"v":49.6},{"d":"18.04","c":"db","g":1,"h":18.3,"v":51.5},{"d":"18.04","c":"db","g":1,"h":19.58,"v":49.6},{"d":"18.04","c":"db","g":1,"h":20.09,"v":47.7},{"d":"18.04","c":"db","g":1,"h":20.18,"v":28.8},{"d":"18.04","c":"db","g":1,"h":20.31,"v":21.2},{"d":"18.04","c":"db","g":1,"h":20.48,"v":22},{"d":"18.04","c":"db","g":1,"h":20.52,"v":47.7},{"d":"18.04","c":"db","g":1,"h":20.6,"v":53.4},{"d":"18.04","c":"db","g":1,"h":20.77,"v":55.3},{"d":"18.04","c":"db","g":1,"h":21.62,"v":53.4},{"d":"18.04","c":"db","g":1,"h":21.67,"v":47.7},{"d":"18.04","c":"db","g":1,"h":22.65,"v":51.5},{"d":"18.04","c":"db","g":1,"h":22.73,"v":55.3},{"d":"18.04","c":"db","g":1,"h":23.37,"v":56},{"d":"18.04","c":"db","g":1,"h":23.41,"v":98.9},{"d":"18.04","c":"db","g":1,"h":23.5,"v":89.4},{"d":"18.04","c":"db","g":1,"h":23.58,"v":70.5},{"d":"18.04","c":"db","g":1,"h":23.67,"v":51.5},{"d":"18.04","c":"db","g":1,"h":23.71,"v":70.5},{"d":"18.04","c":"db","g":1,"h":23.84,"v":93.2},{"d":"18.04","c":"db","g":1,"h":24,"v":95},
{"d":"18.04","c":"bk","a":0,"b":1.44},{"d":"18.04","c":"bk","a":1.5,"b":4.18},{"d":"18.04","c":"bk","a":4.22,"b":5.11},{"d":"18.04","c":"bk","a":5.26,"b":5.29},{"d":"18.04","c":"bk","a":5.61,"b":6.55},{"d":"18.04","c":"bk","a":6.58,"b":7.32},{"d":"18.04","c":"bk","a":7.35,"b":8.26},{"d":"18.04","c":"bk","a":8.65,"b":9.2},{"d":"18.04","c":"bk","a":9.24,"b":9.96},{"d":"18.04","c":"bk","a":10.21,"b":10.23},{"d":"18.04","c":"bk","a":10.3,"b":10.32},{"d":"18.04","c":"bk","a":10.48,"b":11.54},{"d":"18.04","c":"bk","a":11.83,"b":11.85},{"d":"18.04","c":"bk","a":12.02,"b":12.75},{"d":"18.04","c":"bk","a":12.8,"b":13.33},{"d":"18.04","c":"bk","a":13.44,"b":13.47},{"d":"18.04","c":"bk","a":13.7,"b":14.2},{"d":"18.04","c":"bk","a":14.24,"b":14.38},{"d":"18.04","c":"bk","a":14.42,"b":14.73},{"d":"18.04","c":"bk","a":15.2,"b":16.66},{"d":"18.04","c":"bk","a":17.24,"b":17.71},{"d":"18.04","c":"bk","a":17.79,"b":18.2},{"d":"18.04","c":"bk","a":18.25,"b":19.6},{"d":"18.04","c":"bk","a":19.64,"b":19.68},{"d":"18.04","c":"bk","a":19.72,"b":20.13},{"d":"18.04","c":"bk","a":20.52,"b":21.62},{"d":"18.04","c":"bk","a":21.66,"b":22.65},{"d":"18.04","c":"bk","a":22.7,"b":23.37},{"d":"18.04","c":"bk","a":23.75,"b":23.77},{"d":"18.04","c":"bk","a":23.8,"b":23.92},
{"d":"18.04","c":"gr","a":0,"b":5.11},{"d":"18.04","c":"gr","a":5.71,"b":7.45},{"d":"18.04","c":"gr","a":7.5,"b":8.26},{"d":"18.04","c":"gr","a":8.65,"b":9.96},{"d":"18.04","c":"gr","a":10.52,"b":11.54},{"d":"18.04","c":"gr","a":12.13,"b":13.28},{"d":"18.04","c":"gr","a":13.75,"b":14.73},{"d":"18.04","c":"gr","a":15.24,"b":16.6},{"d":"18.04","c":"gr","a":17.33,"b":17.71},{"d":"18.04","c":"gr","a":17.84,"b":20.13},{"d":"18.04","c":"gr","a":20.6,"b":22.65},{"d":"18.04","c":"gr","a":22.7,"b":23.37},{"d":"18.04","c":"gr","a":23.79,"b":24},

{"d":"19.04","c":"lb","g":1,"h":0,"v":99},{"d":"19.04","c":"lb","g":1,"h":10.3,"v":97},{"d":"19.04","c":"lb","g":1,"h":10.35,"v":85},{"d":"19.04","c":"lb","g":1,"h":10.4,"v":95},{"d":"19.04","c":"lb","g":1,"h":10.45,"v":72},{"d":"19.04","c":"lb","g":1,"h":10.5,"v":90},{"d":"19.04","c":"lb","g":1,"h":10.55,"v":60},{"d":"19.04","c":"lb","g":1,"h":10.6,"v":88},{"d":"19.04","c":"lb","g":1,"h":10.65,"v":93},{"d":"19.04","c":"lb","g":1,"h":10.7,"v":64},{"d":"19.04","c":"lb","g":1,"h":10.75,"v":86},{"d":"19.04","c":"lb","g":1,"h":10.8,"v":78},{"d":"19.04","c":"lb","g":1,"h":10.85,"v":94},{"d":"19.04","c":"lb","g":1,"h":10.9,"v":58},{"d":"19.04","c":"lb","g":1,"h":10.95,"v":82},{"d":"19.04","c":"lb","g":1,"h":11.0,"v":91},{"d":"19.04","c":"lb","g":1,"h":11.05,"v":70},{"d":"19.04","c":"lb","g":1,"h":11.1,"v":87},{"d":"19.04","c":"lb","g":1,"h":11.15,"v":55},{"d":"19.04","c":"lb","g":1,"h":11.2,"v":84},{"d":"19.04","c":"lb","g":1,"h":11.25,"v":92},{"d":"19.04","c":"lb","g":1,"h":11.3,"v":66},{"d":"19.04","c":"lb","g":1,"h":11.35,"v":89},{"d":"19.04","c":"lb","g":1,"h":11.4,"v":75},{"d":"19.04","c":"lb","g":1,"h":11.45,"v":93},{"d":"19.04","c":"lb","g":1,"h":11.5,"v":61},{"d":"19.04","c":"lb","g":1,"h":11.55,"v":85},{"d":"19.04","c":"lb","g":1,"h":11.6,"v":80},{"d":"19.04","c":"lb","g":1,"h":11.65,"v":94},{"d":"19.04","c":"lb","g":1,"h":11.7,"v":57},{"d":"19.04","c":"lb","g":1,"h":11.75,"v":88},{"d":"19.04","c":"lb","g":1,"h":11.8,"v":72},{"d":"19.04","c":"lb","g":1,"h":11.85,"v":90},{"d":"19.04","c":"lb","g":1,"h":11.9,"v":53},{"d":"19.04","c":"lb","g":1,"h":11.95,"v":86},{"d":"19.04","c":"lb","g":1,"h":12.0,"v":92},{"d":"19.04","c":"lb","g":1,"h":12.05,"v":58},{"d":"19.04","c":"lb","g":1,"h":12.1,"v":84},{"d":"19.04","c":"lb","g":1,"h":12.15,"v":44},{"d":"19.04","c":"lb","g":1,"h":12.2,"v":89},{"d":"19.04","c":"lb","g":1,"h":12.25,"v":76},{"d":"19.04","c":"lb","g":1,"h":12.3,"v":93},{"d":"19.04","c":"lb","g":1,"h":12.35,"v":52},{"d":"19.04","c":"lb","g":1,"h":12.4,"v":87},{"d":"19.04","c":"lb","g":1,"h":12.45,"v":61},{"d":"19.04","c":"lb","g":1,"h":12.5,"v":91},{"d":"19.04","c":"lb","g":1,"h":12.55,"v":48},{"d":"19.04","c":"lb","g":1,"h":12.6,"v":83},{"d":"19.04","c":"lb","g":1,"h":12.65,"v":90},{"d":"19.04","c":"lb","g":1,"h":12.7,"v":56},{"d":"19.04","c":"lb","g":1,"h":12.75,"v":88},{"d":"19.04","c":"lb","g":1,"h":12.8,"v":50},{"d":"19.04","c":"lb","g":1,"h":12.85,"v":85},{"d":"19.04","c":"lb","g":1,"h":12.9,"v":93},{"d":"19.04","c":"lb","g":1,"h":12.95,"v":59},{"d":"19.04","c":"lb","g":1,"h":13.0,"v":82},{"d":"19.04","c":"lb","g":1,"h":13.05,"v":46},{"d":"19.04","c":"lb","g":1,"h":13.1,"v":90},{"d":"19.04","c":"lb","g":1,"h":13.15,"v":64},{"d":"19.04","c":"lb","g":1,"h":13.2,"v":88},{"d":"19.04","c":"lb","g":1,"h":13.25,"v":49},{"d":"19.04","c":"lb","g":1,"h":13.3,"v":86},{"d":"19.04","c":"lb","g":1,"h":13.35,"v":92},{"d":"19.04","c":"lb","g":1,"h":13.4,"v":55},{"d":"19.04","c":"lb","g":1,"h":13.45,"v":84},{"d":"19.04","c":"lb","g":1,"h":13.5,"v":44},{"d":"19.04","c":"lb","g":1,"h":13.55,"v":89},{"d":"19.04","c":"lb","g":1,"h":13.6,"v":77},{"d":"19.04","c":"lb","g":1,"h":13.65,"v":91},{"d":"19.04","c":"lb","g":1,"h":13.7,"v":53},{"d":"19.04","c":"lb","g":1,"h":13.75,"v":87},{"d":"19.04","c":"lb","g":1,"h":13.8,"v":60},{"d":"19.04","c":"lb","g":1,"h":13.85,"v":93},{"d":"19.04","c":"lb","g":1,"h":13.9,"v":47},{"d":"19.04","c":"lb","g":1,"h":13.95,"v":85},{"d":"19.04","c":"lb","g":1,"h":14.0,"v":90},{"d":"19.04","c":"lb","g":1,"h":14.05,"v":57},{"d":"19.04","c":"lb","g":1,"h":14.1,"v":88},{"d":"19.04","c":"lb","g":1,"h":14.15,"v":51},{"d":"19.04","c":"lb","g":1,"h":14.2,"v":84},{"d":"19.04","c":"lb","g":1,"h":14.25,"v":92},{"d":"19.04","c":"lb","g":1,"h":14.3,"v":63},{"d":"19.04","c":"lb","g":1,"h":14.35,"v":89},{"d":"19.04","c":"lb","g":1,"h":14.4,"v":45},{"d":"19.04","c":"lb","g":1,"h":14.45,"v":86},{"d":"19.04","c":"lb","g":1,"h":14.5,"v":79},{"d":"19.04","c":"lb","g":1,"h":14.55,"v":93},{"d":"19.04","c":"lb","g":1,"h":14.6,"v":52},{"d":"19.04","c":"lb","g":1,"h":14.65,"v":87},{"d":"19.04","c":"lb","g":1,"h":14.7,"v":58},{"d":"19.04","c":"lb","g":1,"h":14.75,"v":90},{"d":"19.04","c":"lb","g":1,"h":14.8,"v":48},{"d":"19.04","c":"lb","g":1,"h":14.85,"v":84},{"d":"19.04","c":"lb","g":1,"h":14.9,"v":91},{"d":"19.04","c":"lb","g":1,"h":14.95,"v":61},{"d":"19.04","c":"lb","g":1,"h":15.0,"v":88},{"d":"19.04","c":"lb","g":1,"h":15.05,"v":43},{"d":"19.04","c":"lb","g":1,"h":15.1,"v":85},{"d":"19.04","c":"lb","g":1,"h":15.15,"v":92},{"d":"19.04","c":"lb","g":1,"h":15.2,"v":56},{"d":"19.04","c":"lb","g":1,"h":15.25,"v":89},{"d":"19.04","c":"lb","g":1,"h":15.3,"v":75},{"d":"19.04","c":"lb","g":1,"h":15.35,"v":93},{"d":"19.04","c":"lb","g":1,"h":15.4,"v":50},{"d":"19.04","c":"lb","g":1,"h":15.45,"v":86},{"d":"19.04","c":"lb","g":1,"h":15.5,"v":60},{"d":"19.04","c":"lb","g":1,"h":15.55,"v":91},{"d":"19.04","c":"lb","g":1,"h":15.6,"v":46},{"d":"19.04","c":"lb","g":1,"h":15.65,"v":83},{"d":"19.04","c":"lb","g":1,"h":15.7,"v":89},{"d":"19.04","c":"lb","g":1,"h":15.75,"v":54},{"d":"19.04","c":"lb","g":1,"h":15.8,"v":87},{"d":"19.04","c":"lb","g":1,"h":15.85,"v":48},{"d":"19.04","c":"lb","g":1,"h":15.9,"v":90},{"d":"19.04","c":"lb","g":1,"h":15.95,"v":62},{"d":"19.04","c":"lb","g":1,"h":16.0,"v":88},{"d":"19.04","c":"lb","g":1,"h":16.05,"v":45},{"d":"19.04","c":"lb","g":1,"h":16.1,"v":84},{"d":"19.04","c":"lb","g":1,"h":16.15,"v":92},{"d":"19.04","c":"lb","g":1,"h":16.2,"v":57},{"d":"19.04","c":"lb","g":1,"h":16.25,"v":86},{"d":"19.04","c":"lb","g":1,"h":16.3,"v":51},{"d":"19.04","c":"lb","g":1,"h":16.35,"v":90},{"d":"19.04","c":"lb","g":1,"h":16.4,"v":64},{"d":"19.04","c":"lb","g":1,"h":16.45,"v":88},{"d":"19.04","c":"lb","g":1,"h":16.5,"v":53},{"d":"19.04","c":"lb","g":1,"h":16.55,"v":91},{"d":"19.04","c":"lb","g":1,"h":16.6,"v":72},{"d":"19.04","c":"lb","g":1,"h":16.65,"v":93},{"d":"19.04","c":"lb","g":1,"h":16.7,"v":64},{"d":"19.04","c":"lb","g":1,"h":16.75,"v":95},{"d":"19.04","c":"lb","g":1,"h":16.8,"v":82},{"d":"19.04","c":"lb","g":1,"h":16.85,"v":96},{"d":"19.04","c":"lb","g":1,"h":16.9,"v":90},{"d":"19.04","c":"lb","g":1,"h":16.95,"v":97},{"d":"19.04","c":"lb","g":1,"h":17.0,"v":98},{"d":"19.04","c":"lb","g":1,"h":17.1,"v":99},{"d":"19.04","c":"lb","g":1,"h":24,"v":99},
{"d":"19.04","c":"or","g":1,"h":0,"v":25.8},{"d":"19.04","c":"or","g":1,"h":1.63,"v":22},{"d":"19.04","c":"or","g":1,"h":4.18,"v":18.2},{"d":"19.04","c":"or","g":1,"h":5.03,"v":18.2},{"d":"19.04","c":"or","g":1,"h":6.73,"v":22},{"d":"19.04","c":"or","g":1,"h":7.58,"v":25.8},{"d":"19.04","c":"or","g":1,"h":8.43,"v":35.2},{"d":"19.04","c":"or","g":1,"h":8.8,"v":40},{"d":"19.04","c":"or","g":1,"h":9.11,"v":46.6},{"d":"19.04","c":"or","g":1,"h":9.45,"v":54.2},{"d":"19.04","c":"or","g":1,"h":9.6,"v":52},{"d":"19.04","c":"or","g":1,"h":9.71,"v":61.7},{"d":"19.04","c":"or","g":1,"h":9.96,"v":73.1},{"d":"19.04","c":"or","g":1,"h":10.1,"v":70},{"d":"19.04","c":"or","g":1,"h":10.31,"v":75},{"d":"19.04","c":"or","g":1,"h":10.45,"v":72},{"d":"19.04","c":"or","g":1,"h":10.56,"v":71.2},{"d":"19.04","c":"or","g":1,"h":10.73,"v":90.2},{"d":"19.04","c":"or","g":1,"h":10.85,"v":80},{"d":"19.04","c":"or","g":1,"h":10.99,"v":76.9},{"d":"19.04","c":"or","g":1,"h":11.15,"v":80},{"d":"19.04","c":"or","g":1,"h":11.3,"v":76},{"d":"19.04","c":"or","g":1,"h":11.41,"v":84.5},{"d":"19.04","c":"or","g":1,"h":11.55,"v":82},{"d":"19.04","c":"or","g":1,"h":11.67,"v":88.3},{"d":"19.04","c":"or","g":1,"h":11.8,"v":82},{"d":"19.04","c":"or","g":1,"h":11.92,"v":76.9},{"d":"19.04","c":"or","g":1,"h":12.1,"v":79},{"d":"19.04","c":"or","g":1,"h":12.35,"v":75},{"d":"19.04","c":"or","g":1,"h":12.55,"v":79},{"d":"19.04","c":"or","g":1,"h":12.77,"v":80.7},{"d":"19.04","c":"or","g":1,"h":13.0,"v":77},{"d":"19.04","c":"or","g":1,"h":13.2,"v":78.8},{"d":"19.04","c":"or","g":1,"h":13.4,"v":75},{"d":"19.04","c":"or","g":1,"h":13.62,"v":76.9},{"d":"19.04","c":"or","g":1,"h":13.85,"v":80},{"d":"19.04","c":"or","g":1,"h":14.05,"v":80.7},{"d":"19.04","c":"or","g":1,"h":14.25,"v":78},{"d":"19.04","c":"or","g":1,"h":14.39,"v":86.4},{"d":"19.04","c":"or","g":1,"h":14.56,"v":76.9},{"d":"19.04","c":"or","g":1,"h":14.75,"v":79},{"d":"19.04","c":"or","g":1,"h":14.9,"v":80.7},{"d":"19.04","c":"or","g":1,"h":15.1,"v":76},{"d":"19.04","c":"or","g":1,"h":15.33,"v":80.7},{"d":"19.04","c":"or","g":1,"h":15.55,"v":78},{"d":"19.04","c":"or","g":1,"h":15.84,"v":84.5},{"d":"19.04","c":"or","g":1,"h":16.0,"v":80},{"d":"19.04","c":"or","g":1,"h":16.18,"v":76.9},{"d":"19.04","c":"or","g":1,"h":16.4,"v":73},{"d":"19.04","c":"or","g":1,"h":16.6,"v":69.3},{"d":"19.04","c":"or","g":1,"h":16.8,"v":64},{"d":"19.04","c":"or","g":1,"h":17.03,"v":59.8},{"d":"19.04","c":"or","g":1,"h":17.45,"v":56.1},{"d":"19.04","c":"or","g":1,"h":18.3,"v":56.1},{"d":"19.04","c":"or","g":1,"h":19.16,"v":50.4},{"d":"19.04","c":"or","g":1,"h":20.18,"v":44.7},{"d":"19.04","c":"or","g":1,"h":21.28,"v":35.2},{"d":"19.04","c":"or","g":1,"h":22.13,"v":33.3},{"d":"19.04","c":"or","g":1,"h":24,"v":31.4},
{"d":"19.04","c":"yl","g":"y1","h":0,"v":69.3},{"d":"19.04","c":"yl","g":"y1","h":0.18,"v":65.5},{"d":"19.04","c":"yl","g":"y1","h":0.43,"v":50.4},{"d":"19.04","c":"yl","g":"y1","h":0.77,"v":33.3},{"d":"19.04","c":"yl","g":"y1","h":1.2,"v":25.8},{"d":"19.04","c":"yl","g":"y1","h":1.63,"v":22},{"d":"19.04","c":"yl","g":"y1","h":2.48,"v":16.3},{"d":"19.04","c":"yl","g":"y1","h":4.18,"v":10.6},{"d":"19.04","c":"yl","g":"y1","h":5.88,"v":6.8},{"d":"19.04","c":"yl","g":"y1","h":7.58,"v":6.8},{"d":"19.04","c":"yl","g":"y1","h":8.43,"v":8.7},{"d":"19.04","c":"yl","g":"y1","h":9.29,"v":12.5},{"d":"19.04","c":"yl","g":"y1","h":10.14,"v":18.2},{"d":"19.04","c":"yl","g":"y1","h":10.99,"v":23.9},{"d":"19.04","c":"yl","g":"y1","h":11.84,"v":29.5},{"d":"19.04","c":"yl","g":"y1","h":12.18,"v":30.3},{"d":"19.04","c":"yl","g":"y1","h":13.5,"v":31},{"d":"19.04","c":"yl","g":"y1","h":14.48,"v":31.4},{"d":"19.04","c":"yl","g":"y1","h":15.0,"v":32},{"d":"19.04","c":"yl","g":"y1","h":15.07,"v":34},{"d":"19.04","c":"yl","g":"y1","h":15.15,"v":31.4},{"d":"19.04","c":"yl","g":"y1","h":15.33,"v":29.5},{"d":"19.04","c":"yl","g":"y1","h":17.03,"v":23.9},{"d":"19.04","c":"yl","g":"y1","h":18.73,"v":18.2},{"d":"19.04","c":"yl","g":"y1","h":20.43,"v":13.6},{"d":"19.04","c":"yl","g":"y1","h":22.13,"v":10.6},{"d":"19.04","c":"yl","g":"y1","h":24,"v":8},
{"d":"19.04","c":"db","g":1,"h":0,"v":98.9},{"d":"19.04","c":"db","g":1,"h":0.48,"v":97.7},{"d":"19.04","c":"db","g":1,"h":0.52,"v":80.7},{"d":"19.04","c":"db","g":1,"h":0.6,"v":78.8},{"d":"19.04","c":"db","g":1,"h":0.9,"v":80},{"d":"19.04","c":"db","g":1,"h":1.2,"v":82.6},{"d":"19.04","c":"db","g":1,"h":1.5,"v":85},{"d":"19.04","c":"db","g":1,"h":1.71,"v":88.3},{"d":"19.04","c":"db","g":1,"h":1.73,"v":80.7},{"d":"19.04","c":"db","g":1,"h":1.8,"v":92},{"d":"19.04","c":"db","g":1,"h":2.48,"v":94},{"d":"19.04","c":"db","g":1,"h":5.03,"v":95.1},{"d":"19.04","c":"db","g":1,"h":7.58,"v":95.8},{"d":"19.04","c":"db","g":1,"h":8.43,"v":97},{"d":"19.04","c":"db","g":1,"h":10.14,"v":98},{"d":"19.04","c":"db","g":1,"h":11.84,"v":95.8},{"d":"19.04","c":"db","g":1,"h":12.5,"v":93},{"d":"19.04","c":"db","g":1,"h":13.03,"v":90.2},{"d":"19.04","c":"db","g":1,"h":13.1,"v":86.4},{"d":"19.04","c":"db","g":1,"h":13.62,"v":88.3},{"d":"19.04","c":"db","g":1,"h":14.48,"v":88.3},{"d":"19.04","c":"db","g":1,"h":15.11,"v":94},{"d":"19.04","c":"db","g":1,"h":15.75,"v":92},{"d":"19.04","c":"db","g":1,"h":16.52,"v":90.2},{"d":"19.04","c":"db","g":1,"h":17.03,"v":95.8},{"d":"19.04","c":"db","g":1,"h":18.73,"v":98.9},{"d":"19.04","c":"db","g":1,"h":24,"v":96.6},
{"d":"19.04","c":"bk","a":0,"b":0.06},{"d":"19.04","c":"bk","a":0.72,"b":0.74},{"d":"19.04","c":"bk","a":0.81,"b":0.83},{"d":"19.04","c":"bk","a":0.93,"b":0.95},{"d":"19.04","c":"bk","a":1.02,"b":1.04},{"d":"19.04","c":"bk","a":1.11,"b":1.13},{"d":"19.04","c":"bk","a":1.19,"b":1.21},{"d":"19.04","c":"bk","a":1.33,"b":1.41},{"d":"19.04","c":"bk","a":1.46,"b":1.58},{"d":"19.04","c":"bk","a":1.63,"b":1.71},{"d":"19.04","c":"bk","a":1.75,"b":10.8},{"d":"19.04","c":"bk","a":10.84,"b":11.4},{"d":"19.04","c":"bk","a":11.45,"b":11.52},{"d":"19.04","c":"bk","a":11.56,"b":11.62},{"d":"19.04","c":"bk","a":11.66,"b":11.74},{"d":"19.04","c":"bk","a":11.78,"b":11.88},{"d":"19.04","c":"bk","a":11.92,"b":12.3},{"d":"19.04","c":"bk","a":12.34,"b":12.6},{"d":"19.04","c":"bk","a":12.65,"b":12.8},{"d":"19.04","c":"bk","a":12.84,"b":13.1},{"d":"19.04","c":"bk","a":13.14,"b":13.4},{"d":"19.04","c":"bk","a":13.44,"b":13.7},{"d":"19.04","c":"bk","a":13.76,"b":13.9},{"d":"19.04","c":"bk","a":13.95,"b":14.5},{"d":"19.04","c":"bk","a":14.55,"b":14.62},{"d":"19.04","c":"bk","a":14.68,"b":14.75},{"d":"19.04","c":"bk","a":14.8,"b":14.9},{"d":"19.04","c":"bk","a":14.95,"b":15.1},{"d":"19.04","c":"bk","a":15.15,"b":15.4},{"d":"19.04","c":"bk","a":15.45,"b":15.6},{"d":"19.04","c":"bk","a":15.65,"b":15.8},{"d":"19.04","c":"bk","a":15.85,"b":16.0},{"d":"19.04","c":"bk","a":16.05,"b":16.2},{"d":"19.04","c":"bk","a":16.25,"b":16.45},{"d":"19.04","c":"bk","a":16.5,"b":16.62},{"d":"19.04","c":"bk","a":16.66,"b":22.2},{"d":"19.04","c":"bk","a":22.25,"b":24},
{"d":"19.04","c":"gr","a":0,"b":0.04},

{"d":"20.04","c":"lb","g":1,"h":0,"v":98.5},{"d":"20.04","c":"lb","g":1,"h":11.4,"v":98.5},
{"d":"20.04","c":"or","g":1,"h":0,"v":31.4},{"d":"20.04","c":"or","g":1,"h":0.31,"v":29.5},{"d":"20.04","c":"or","g":1,"h":0.35,"v":33.3},{"d":"20.04","c":"or","g":1,"h":1.63,"v":29.5},{"d":"20.04","c":"or","g":1,"h":3.33,"v":25.8},{"d":"20.04","c":"or","g":1,"h":4.6,"v":22},{"d":"20.04","c":"or","g":1,"h":5.71,"v":15.5},{"d":"20.04","c":"or","g":1,"h":6.73,"v":20.1},{"d":"20.04","c":"or","g":1,"h":7.58,"v":29.5},{"d":"20.04","c":"or","g":1,"h":8.01,"v":39},{"d":"20.04","c":"or","g":1,"h":8.2,"v":45},{"d":"20.04","c":"or","g":1,"h":8.43,"v":50.4},{"d":"20.04","c":"or","g":1,"h":8.55,"v":48},{"d":"20.04","c":"or","g":1,"h":8.69,"v":56.1},{"d":"20.04","c":"or","g":1,"h":8.86,"v":58},{"d":"20.04","c":"or","g":1,"h":8.95,"v":55},{"d":"20.04","c":"or","g":1,"h":9.11,"v":65.5},{"d":"20.04","c":"or","g":1,"h":9.24,"v":61.7},{"d":"20.04","c":"or","g":1,"h":9.33,"v":92},{"d":"20.04","c":"or","g":1,"h":9.45,"v":80.7},{"d":"20.04","c":"or","g":1,"h":9.62,"v":76.9},{"d":"20.04","c":"or","g":1,"h":9.8,"v":72},{"d":"20.04","c":"or","g":1,"h":9.96,"v":67.4},{"d":"20.04","c":"or","g":1,"h":10.14,"v":63.6},{"d":"20.04","c":"or","g":1,"h":10.3,"v":66},{"d":"20.04","c":"or","g":1,"h":10.48,"v":69.3},{"d":"20.04","c":"or","g":1,"h":10.7,"v":67},{"d":"20.04","c":"or","g":1,"h":10.99,"v":67.4},{"d":"20.04","c":"or","g":1,"h":11.1,"v":63},{"d":"20.04","c":"or","g":1,"h":11.24,"v":75},{"d":"20.04","c":"or","g":1,"h":11.33,"v":97.7},{"d":"20.04","c":"or","g":1,"h":11.37,"v":73.1},
{"d":"20.04","c":"yl","g":"y1","h":0,"v":8.7},{"d":"20.04","c":"yl","g":"y1","h":0.26,"v":8.7},{"d":"20.04","c":"yl","g":"y1","h":0.3,"v":54.2},{"d":"20.04","c":"yl","g":"y1","h":0.33,"v":23.9},{"d":"20.04","c":"yl","g":"y1","h":0.5,"v":15},{"d":"20.04","c":"yl","g":"y1","h":0.77,"v":12.5},{"d":"20.04","c":"yl","g":"y1","h":1.63,"v":8.7},{"d":"20.04","c":"yl","g":"y1","h":3.33,"v":6.8},{"d":"20.04","c":"yl","g":"y1","h":5.88,"v":1.1},{"d":"20.04","c":"yl","g":"y1","h":7.58,"v":4.9},{"d":"20.04","c":"yl","g":"y1","h":9.29,"v":16.3},{"d":"20.04","c":"yl","g":"y1","h":10.14,"v":20.8},{"d":"20.04","c":"yl","g":"y1","h":11.24,"v":22},{"d":"20.04","c":"yl","g":"y1","h":11.37,"v":23.9},{"d":"20.04","c":"yl","g":"y1","h":11.38,"v":40.9},
{"d":"20.04","c":"db","g":1,"h":0,"v":96.6},{"d":"20.04","c":"db","g":1,"h":6.8,"v":96.8},
{"d":"20.04","c":"bk","a":0,"b":0.38},{"d":"20.04","c":"bk","a":0.41,"b":0.45},{"d":"20.04","c":"bk","a":0.49,"b":11.33}
]},
"spacing":0,
"bounds":"flush",
"hconcat":[
{
"width":78,"height":440,
"transform":[{"aggregate":[{"op":"count","as":"n"}],"groupby":["d"]}],
"encoding":{"y":{"field":"d","type":"nominal","sort":"ascending","scale":{"paddingInner":0,"paddingOuter":0},"axis":null}},
"layer":[
{"mark":{"type":"rect","fill":"#e3e3e3","stroke":"#888888","strokeWidth":1},
 "encoding":{"x":{"datum":0,"type":"quantitative","scale":{"domain":[0,1],"nice":false},"axis":null},"x2":{"datum":1}}},
{"mark":{"type":"text","fontSize":15,"color":"#444444","font":"Liberation Sans","align":"center","baseline":"middle"},
 "encoding":{"x":{"datum":0.5,"type":"quantitative"},"text":{"field":"d"}}}
]
},
{
"facet":{"row":{"field":"d","type":"nominal","sort":"ascending","header":{"labels":false,"title":null,"labelPadding":0,"titlePadding":0}}},
"spacing":0,
"bounds":"flush",
"spec":{
"width":940,"height":88,
"layer":[
{"transform":[{"filter":"datum.c == 'gr'"}],
 "mark":{"type":"rect","color":"#12e012","clip":true},
 "encoding":{
  "x":{"field":"a","type":"quantitative","title":"Time [h]","scale":{"domain":[0,24],"nice":false,"zero":false},
   "axis":{"values":[0,6,12,18,24],"labelExpr":"(datum.value < 10 ? '0' : '') + datum.value + ':00'","labelFlush":false,"grid":false,"tickColor":"#888888","domainColor":"#888888","labelColor":"#777777","labelFontSize":12,"labelFont":"Liberation Sans","titleFont":"Liberation Sans","titleFontSize":18,"titleFontWeight":"normal","titleColor":"#333333","tickSize":8,"labelPadding":4,"titlePadding":9}},
  "x2":{"field":"b"},
  "y":{"datum":15,"type":"quantitative","scale":{"domain":[0,100],"nice":false,"zero":false},"axis":null},
  "y2":{"datum":25}}},
{"transform":[{"filter":"datum.c == 'bk'"}],
 "mark":{"type":"rect","color":"#000000","clip":true},
 "encoding":{
  "x":{"field":"a","type":"quantitative","title":"Time [h]"},
  "x2":{"field":"b"},
  "y":{"datum":35,"type":"quantitative"},
  "y2":{"datum":44}}},
{"transform":[{"filter":"datum.c == 'lb'"}],
 "mark":{"type":"line","color":"#a9d3e3","strokeWidth":1.5,"clip":true},
 "encoding":{"x":{"field":"h","type":"quantitative","title":"Time [h]"},"y":{"field":"v","type":"quantitative"},"detail":{"field":"g"}}},
{"transform":[{"filter":"datum.c == 'or'"}],
 "mark":{"type":"line","color":"#e3a02b","strokeWidth":1.5,"clip":true},
 "encoding":{"x":{"field":"h","type":"quantitative","title":"Time [h]"},"y":{"field":"v","type":"quantitative"},"detail":{"field":"g"}}},
{"transform":[{"filter":"datum.c == 'rd' || datum.c == 'yl'"}],
 "mark":{"type":"line","strokeWidth":1.5,"clip":true},
 "encoding":{"x":{"field":"h","type":"quantitative","title":"Time [h]"},"y":{"field":"v","type":"quantitative"},"detail":{"field":"g"},
  "color":{"field":"c","type":"nominal","scale":{"domain":["rd","yl"],"range":["#d42a1e","#f4e43c"]},"legend":null}}},
{"transform":[{"filter":"datum.c == 'db'"}],
 "mark":{"type":"line","color":"#1c4f86","strokeWidth":1.5,"clip":true},
 "encoding":{"x":{"field":"h","type":"quantitative","title":"Time [h]"},"y":{"field":"v","type":"quantitative"},"detail":{"field":"g"}}}
]
}
}
]
}
